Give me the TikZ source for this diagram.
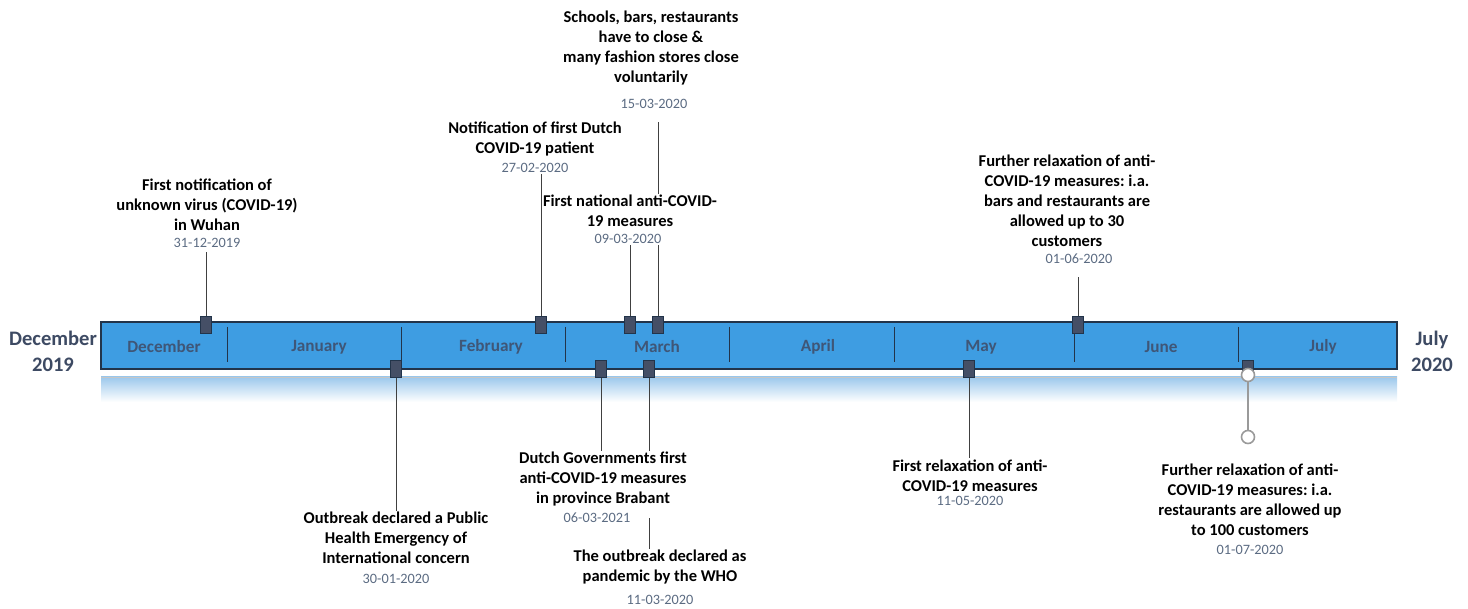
\documentclass[tikz,border=0pt]{standalone}
\usepackage{fontspec}
\setmainfont{Carlito}
\frenchspacing
\usetikzlibrary{calc}
\definecolor{barblue}{HTML}{3E9DE2}
\definecolor{barline}{HTML}{22344A}
\definecolor{monthcol}{HTML}{3F5677}
\definecolor{markcol}{HTML}{454F66}
\definecolor{datecol}{HTML}{5B6B82}
\definecolor{sidecol}{HTML}{3D4A63}
\definecolor{pincol}{HTML}{9A9A9A}
\definecolor{glow}{HTML}{9CC8EC}
\tikzset{
  evtitle/.style={font=\bfseries\fontsize{16.5}{20}\selectfont, align=center, inner sep=1pt, text=black},
  evdate/.style={font=\fontsize{14.3}{16}\selectfont, text=datecol, inner sep=1pt},
  month/.style={font=\bfseries\fontsize{17.2}{20}\selectfont, text=monthcol},
  side/.style={font=\bfseries\fontsize{20.6}{26}\selectfont, text=sidecol, align=center},
  marker/.style={draw=barline, line width=0.6pt, fill=markcol, minimum width=11pt, minimum height=17pt, inner sep=0pt},
  conn/.style={draw=black!75, line width=0.8pt},
  divider/.style={draw=barline, line width=0.8pt},
  pin/.style={circle, draw=pincol, line width=1.6pt, fill=white, minimum size=13pt, inner sep=0pt}
}
\begin{document}
\begin{tikzpicture}[x=1pt, y=-1pt]
\useasboundingbox (0,0) rectangle (1468,609);

% reflection below the bar
\shade[top color=glow, bottom color=white] (101,377) rectangle (1397,402);
\draw[gray!45, line width=0.6pt] (101,377) -- (1397,377);

% the bar
\node[draw=barline, line width=1.4pt, fill=barblue, minimum width=1296pt, minimum height=47pt, inner sep=0pt] (bar) at (749,345.5) {};

% month dividers
\foreach \x in {227,401,565,729,894,1074,1238}
  \draw[divider] (\x,327) -- (\x,362);

% month names
\node[month] (mdec) at (164,347) {December};
\node[month] (mjan) at (319,347) {January};
\node[month] (mfeb) at (491,347) {February};
\node[month] (mmar) at (657,347) {March};
\node[month] (mapr) at (818,347) {April};
\node[month] (mmay) at (981,347) {May};
\node[month] (mjun) at (1161,347) {June};
\node[month] (mjul) at (1323,347) {July};

% start and end labels
\node[side] (start) at (53,351) {December\\2019};
\node[side] (end) at (1432,351) {July\\2020};

% markers above the bar
\node[marker] (m1) at (206,325) {};
\node[marker] (m2) at (541,325) {};
\node[marker] (m3) at (630,325) {};
\node[marker] (m4) at (658,325) {};
\node[marker] (m5) at (1078,325) {};
% markers below the bar
\node[marker] (n1) at (396,369) {};
\node[marker] (n2) at (601,369) {};
\node[marker] (n3) at (649,369) {};
\node[marker] (n4) at (969,369) {};
\node[marker, minimum height=12pt] (n5) at (1248,366) {};

% events above
\node[evtitle] (t1) at (207,205) {First notification of\\unknown virus (COVID-19)\\in Wuhan};
\node[evdate] (d1) at (207,243) {31-12-2019};
\node[evtitle] (t2) at (535,139) {Notification of first Dutch\\COVID-19 patient};
\node[evdate] (d2) at (535,168) {27-02-2020};
\node[evtitle] (t3) at (651,48.5) {Schools, bars, restaurants\\have to close \&\\many fashion stores close\\voluntarily};
\node[evdate] (d3) at (654,104) {15-03-2020};
\node[evtitle] (t4) at (630,211) {First national anti-COVID-\\19 measures};
\node[evdate] (d4) at (628,239) {09-03-2020};
\node[evtitle] (t5) at (1067,200.5) {Further relaxation of anti-\\COVID-19 measures: i.a.\\bars and restaurants are\\allowed up to 30\\customers};
\node[evdate] (d5) at (1079,259) {01-06-2020};

% events below
\node[evtitle] (b1) at (396,538) {Outbreak declared a Public\\Health Emergency of\\International concern};
\node[evdate] (e1) at (396,579) {30-01-2020};
\node[evtitle] (b2) at (603,479) {Dutch Governments first\\anti-COVID-19 measures\\in province Brabant};
\node[evdate] (e2) at (597,518) {06-03-2021};
\node[evtitle] (b3) at (660,567) {The outbreak declared as\\pandemic by the WHO};
\node[evdate] (e3) at (660,600) {11-03-2020};
\node[evtitle] (b4) at (970,475.5) {First relaxation of anti-\\COVID-19 measures};
\node[evdate] (e4) at (970,501) {11-05-2020};
\node[evtitle] (b5) at (1250,499.5) {Further relaxation of anti-\\COVID-19 measures: i.a.\\restaurants are allowed up\\to 100 customers};
\node[evdate] (e5) at (1250,550) {01-07-2020};

% connectors above
\draw[conn] (m1.north) -- ($(m1 |- d1.south)+(0,3)$);
\draw[conn] (m2.north) -- (m2 |- d2.south);
\draw[conn] (m3.north) -- (m3 |- d4.south);
\draw[conn] (m4.north) -- (m4 |- d4.south);
\draw[conn] (m4 |- t4.north) -- ($(m4 |- d3.south)+(0,12)$);
\draw[conn] (m5.north) -- ($(m5 |- d5.south)+(0,12)$);

% connectors below
\draw[conn] (n1.south) -- (n1 |- b1.north);
\draw[conn] (n2.south) -- (n2 |- b2.north);
\draw[conn] (n3.south) -- (n3 |- b2.north);
\draw[conn] (n3 |- e2.center) -- (n3 |- b3.north);
\draw[conn] (n4.south) -- (n4 |- b4.north);

% pin for the last event
\node[pin] (p1) at (1248,375) {};
\node[pin] (p2) at (1248,437) {};
\draw[draw=pincol, line width=1.6pt] (p1.south) -- (p2.north);
\end{tikzpicture}
\end{document}
